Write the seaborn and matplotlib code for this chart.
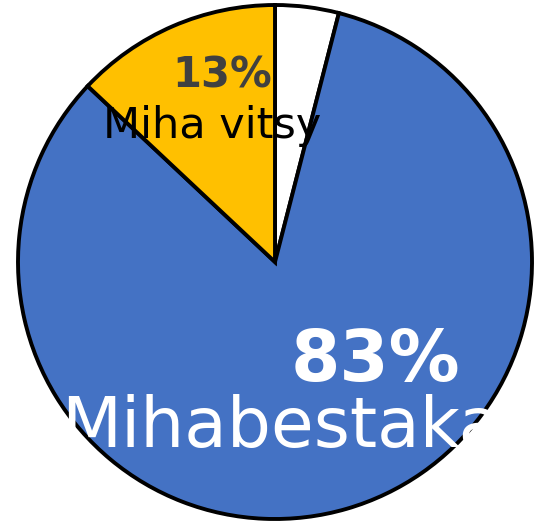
import matplotlib
matplotlib.use("Agg")
import matplotlib.pyplot as plt
import seaborn as sns

labels = ["", "Mihabestaka", "Miha vitsy"]
values = [4, 83, 13]
colors = ["#FFFFFF", "#4472C4", "#FFC000"]

sns.set_style("white")
plt.rcParams["font.family"] = ["DejaVu Sans"]

fig = plt.figure(figsize=(5.35, 5.23), dpi=100)
ax = fig.add_axes([0, 0, 1, 1])

ax.pie(values, colors=colors, startangle=90, counterclock=False,
       radius=1, center=(0, 0),
       wedgeprops={"edgecolor": "black", "linewidth": 2.8})

# pixel -> data helper (pie radius is 257 px)
R = 257.0
def px(x, y):
    return (x - 275) / R, (262 - y) / R

ax.set_xlim(-275 / R, (535 - 275) / R)
ax.set_ylim(-261 / R, 262 / R)
ax.set_aspect("equal")
ax.axis("off")

# labels
ax.text(*px(375, 362), f"{values[1]}%", ha="center", va="center",
        fontsize=51, fontweight="bold", color="white")
ax.text(*px(281, 427), labels[1], ha="center", va="center",
        fontsize=50, color="white")
ax.text(*px(222, 76), f"{values[2]}%", ha="center", va="center",
        fontsize=30, fontweight="bold", color="#404040")
ax.text(*px(212, 126), labels[2], ha="center", va="center",
        fontsize=31, color="black")

fig.savefig("out.png", dpi=100)
